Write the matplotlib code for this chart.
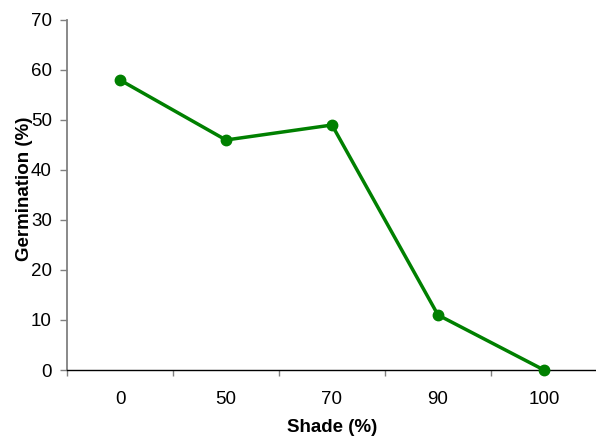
import matplotlib
matplotlib.use("Agg")
import matplotlib.pyplot as plt

plt.rcParams['font.family'] = ['Liberation Sans', 'DejaVu Sans']

categories = ["0", "50", "70", "90", "100"]
germination = [58, 46, 49, 11, 0]
yticks = [0, 10, 20, 30, 40, 50, 60, 70]

fig = plt.figure(figsize=(5.96, 4.36), dpi=100)
ax = fig.add_axes([67/596, 66/436, 530/596, 350/436])
x = list(range(len(categories)))
ax.plot(x, germination, color="#008000", linewidth=2.5, marker="o",
        markersize=7.5, clip_on=False, zorder=3)

ax.set_xlim(-0.5, len(categories) - 0.5)
ax.set_ylim(0, 70)
ax.set_yticks(yticks)
ax.set_xticks(x)
ax.set_xticklabels(categories)
ax.set_xticks([i - 0.5 for i in range(len(categories) + 1)], minor=True)
ax.tick_params(axis='x', which='major', length=0, pad=15, labelsize=13.5)
ax.tick_params(axis='x', which='minor', length=4, width=1, color="#808080", direction='out')
ax.tick_params(axis='y', length=5, width=1, color="#808080", labelsize=13.5, pad=6)

for s in ["top", "right"]:
    ax.spines[s].set_visible(False)
ax.spines["left"].set_color("#808080")
ax.spines["left"].set_linewidth(1.3)
ax.spines["bottom"].set_color("black")
ax.spines["bottom"].set_linewidth(1.0)

ax.set_xlabel("Shade (%)", fontsize=13.5, fontweight="bold", labelpad=8)
ax.set_ylabel("Germination (%)", fontsize=13.5, fontweight="bold", labelpad=1)
ax.yaxis.set_label_coords(-0.065, 0.517)

fig.savefig("out.png", dpi=100)
